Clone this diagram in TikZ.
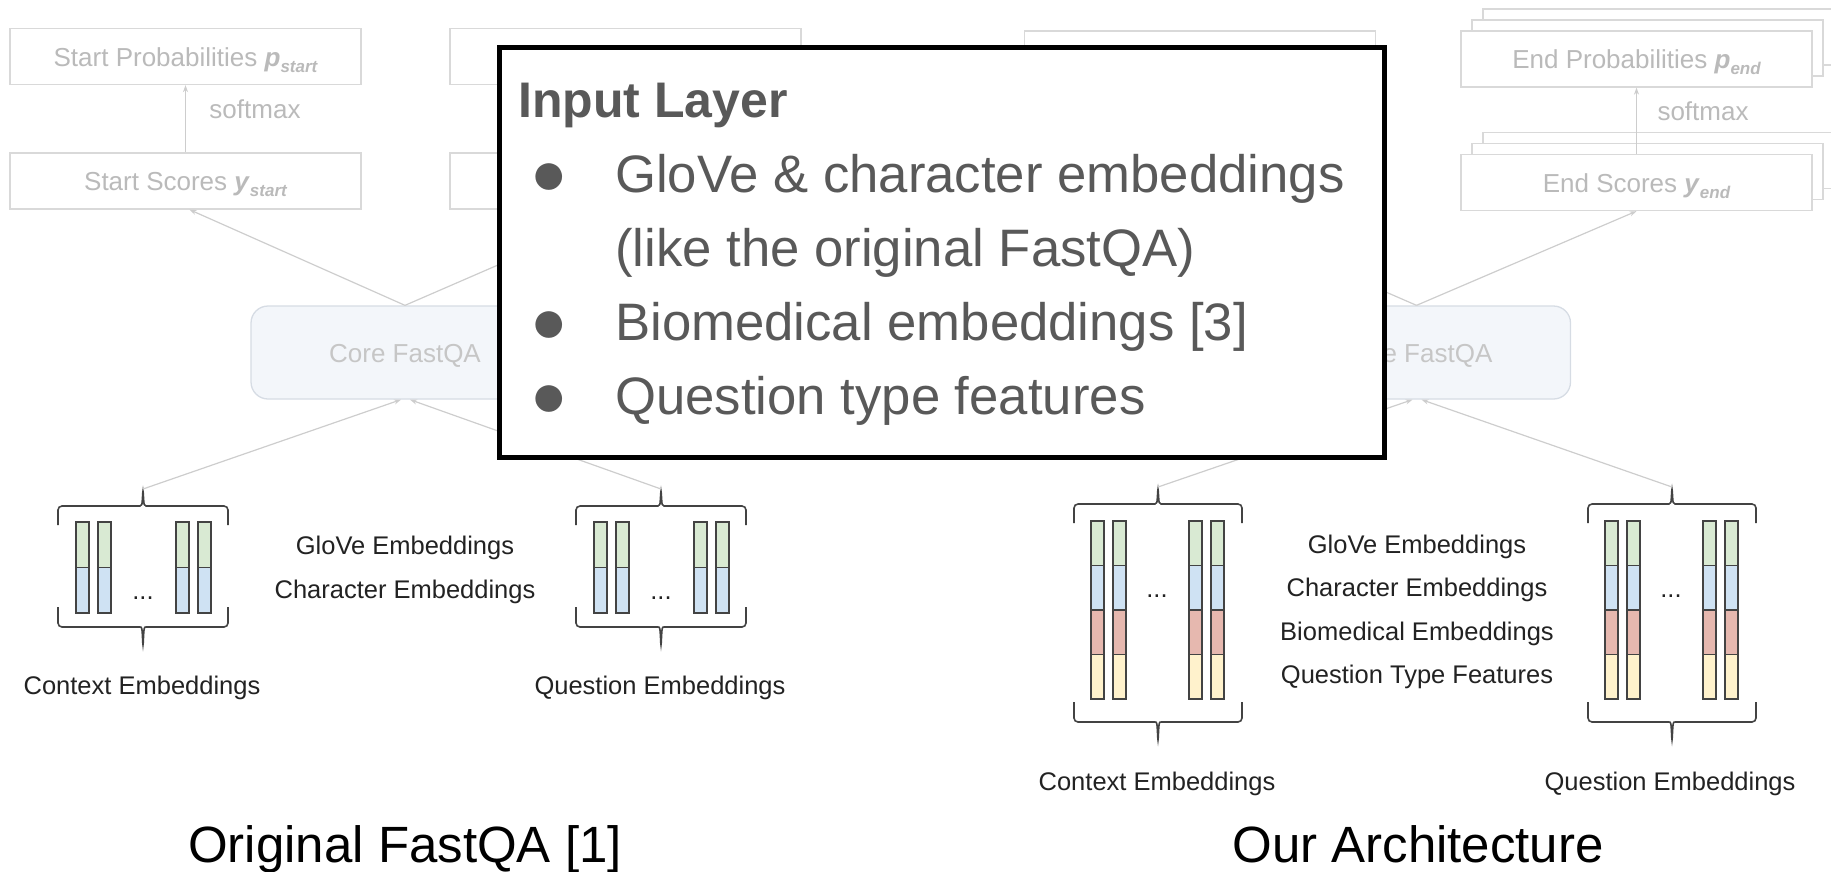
\documentclass[tikz,border=0pt]{standalone}
\usepackage{fontspec}
\setmainfont{Liberation Sans}
\usetikzlibrary{arrows.meta,positioning}

\definecolor{boxline}{RGB}{217,217,217}
\definecolor{boxtext}{RGB}{186,186,186}
\definecolor{linegray}{RGB}{205,205,205}
\definecolor{corefill}{RGB}{243,246,250}
\definecolor{coreline}{RGB}{214,220,228}
\definecolor{coretext}{RGB}{198,198,198}
\definecolor{barline}{RGB}{67,67,67}
\definecolor{labeltext}{RGB}{34,34,34}
\definecolor{poptext}{RGB}{89,89,89}
\definecolor{glove}{RGB}{217,234,211}
\definecolor{charemb}{RGB}{207,226,243}
\definecolor{biomed}{RGB}{230,184,175}
\definecolor{qtype}{RGB}{255,242,204}

\newcommand{\lowidx}[1]{\raisebox{-6pt}{\fontsize{17}{17}\selectfont\bfseries\itshape #1}}
\newcommand{\bracetop}[4]{%
  \draw[braceline] (#1,#3) -- (#1,#3-19) -- ({(#1+#2)/2-7},#3-19)
    .. controls ({(#1+#2)/2-1},#3-19) .. ({(#1+#2)/2},#3-36) coordinate (#4)
    .. controls ({(#1+#2)/2+1},#3-19) .. ({(#1+#2)/2+7},#3-19) -- (#2,#3-19) -- (#2,#3);}
\newcommand{\bracebot}[4]{%
  \draw[braceline] (#1,#3) -- (#1,#3+20) -- ({(#1+#2)/2-7},#3+20)
    .. controls ({(#1+#2)/2-1},#3+20) .. ({(#1+#2)/2},#3+40) coordinate (#4)
    .. controls ({(#1+#2)/2+1},#3+20) .. ({(#1+#2)/2+7},#3+20) -- (#2,#3+20) -- (#2,#3);}

\begin{document}
\begin{tikzpicture}[x=1pt,y=-1pt,
  gbox/.style={draw=boxline,fill=white,line width=1.3pt,minimum width=351pt,minimum height=56pt,
    text height=19pt,text depth=0pt,text=boxtext,font=\fontsize{26}{30}\selectfont},
  core/.style={draw=coreline,fill=corefill,line width=1.3pt,rounded corners=17pt,minimum width=308pt,
    minimum height=93pt,text height=19pt,text depth=0pt,text=coretext,font=\fontsize{26}{30}\selectfont},
  thinarrow/.style={draw=linegray,line width=1.2pt,-{Stealth[length=7pt,width=5pt]}},
  braceline/.style={draw=barline,line width=1.6pt,rounded corners=4pt},
  bar/.style={draw=barline,line width=1.6pt},
  label/.style={text=labeltext,font=\fontsize{25.5}{30}\selectfont,inner sep=0pt,anchor=base},
  gray label/.style={text=boxtext,font=\fontsize{26}{30}\selectfont,inner sep=0pt},
  pop/.style={text=poptext,font=\fontsize{52.7}{60}\selectfont,inner sep=0pt,anchor=base west},
  popdot/.style={text=poptext,font=\fontsize{62}{70}\selectfont,inner sep=0pt,anchor=base},
  title/.style={text=black,font=\fontsize{51}{60}\selectfont,inner sep=0pt,anchor=base}]
\useasboundingbox (0,0) rectangle (1831,871);

% Original FastQA
\path
(185.5,56.5) node [gbox] (probL) {Start Probabilities \textbf{\textit{p}}\lowidx{start}}
(185.5,181) node [gbox] (scoreL) {Start Scores \textbf{\textit{y}}\lowidx{start}}
(625.5,56.5) node [gbox] (probLb) {}
(625.5,181) node [gbox] (scoreLb) {}
(405,352.5) node [core] (coreL) {Core FastQA}
(255,109) node [gray label] (softL) {softmax}
;
\draw[thinarrow] (scoreL.north) -- (probL.south);
\draw[thinarrow] (coreL.north) -- ([xshift=4pt]scoreL.south);
\draw[thinarrow] (coreL.north) -- (scoreLb.south);

\foreach \x in {76,98,176,198,594,616,694,716} {
  \draw[bar,fill=glove] (\x,522) rectangle ++(13,45.5);
  \draw[bar,fill=charemb] (\x,567.5) rectangle ++(13,45.5);
}
\bracetop{58}{228}{525}{ctxTipL}
\bracebot{58}{228}{607}{ctxEndL}
\bracetop{576}{746}{525}{qTipL}
\bracebot{576}{746}{607}{qEndL}
\draw[thinarrow] (ctxTipL) -- ([xshift=-4pt]coreL.south);
\draw[thinarrow] (qTipL) -- ([xshift=5pt]coreL.south);
\path
(143,599) node [label] (dotsLa) {...}
(661,599) node [label] (dotsLb) {...}
(405,554) node [label] (gloveL) {GloVe Embeddings}
(405,598) node [label] (charL) {Character Embeddings}
(142,694) node [label] (ctxL) {Context Embeddings}
(660,694) node [label] (qL) {Question Embeddings}
(405,862) node [title] (titleL) {Original FastQA [1]}
;

% Our Architecture
\path
(1200,59) node [gbox] (probRa) {}
(1200,182.5) node [gbox] (scoreRa) {}
(1658.5,37) node [gbox] (probRc) {}
(1647.5,48) node [gbox] (probRb) {}
(1636.5,59) node [gbox] (probR) {End Probabilities \textbf{\textit{p}}\lowidx{end}}
(1658.5,160.5) node [gbox] (scoreRc) {}
(1647.5,171.5) node [gbox] (scoreRb) {}
(1636.5,182.5) node [gbox] (scoreR) {End Scores \textbf{\textit{y}}\lowidx{end}}
(1416.5,352.5) node [core] (coreR) {Core FastQA}
(1703,111) node [gray label] (softR) {softmax}
;
\draw[thinarrow] (scoreR.north) -- (probR.south);
\draw[thinarrow] (coreR.north) -- (scoreR.south);
\draw[thinarrow] (coreR.north) -- (scoreRa.south);

\foreach \x in {1091,1113,1189,1211,1605,1627,1703,1725} {
  \draw[bar,fill=glove] (\x,521) rectangle ++(13,44.5);
  \draw[bar,fill=charemb] (\x,565.5) rectangle ++(13,44.5);
  \draw[bar,fill=biomed] (\x,610) rectangle ++(13,44.5);
  \draw[bar,fill=qtype] (\x,654.5) rectangle ++(13,44.5);
}
\bracetop{1074}{1242}{523}{ctxTipR}
\bracebot{1074}{1242}{702}{ctxEndR}
\bracetop{1588}{1756}{523}{qTipR}
\bracebot{1588}{1756}{702}{qEndR}
\draw[thinarrow] (ctxTipR) -- ([xshift=-4pt]coreR.south);
\draw[thinarrow] (qTipR) -- ([xshift=5pt]coreR.south);
\path
(1157,597) node [label] (dotsRa) {...}
(1671,597) node [label] (dotsRb) {...}
(1417,553) node [label] (gloveR) {GloVe Embeddings}
(1417,596) node [label] (charR) {Character Embeddings}
(1417,640) node [label] (bioR) {Biomedical Embeddings}
(1417,683) node [label] (typeR) {Question Type Features}
(1157,790) node [label] (ctxR) {Context Embeddings}
(1670,790) node [label] (qR) {Question Embeddings}
(1418,862) node [title] (titleR) {Our Architecture}
;

% callout
\node[draw=black,fill=white,line width=5pt,minimum width=885pt,minimum height=409.5pt] (popup) at (942,252.25) {};
\path
(518,117) node [pop,font=\fontsize{50}{60}\selectfont\bfseries] (popTitle) {Input Layer}
(549,194) node [popdot] (dotA) {●}
(615,192) node [pop] (popA) {GloVe \& character embeddings}
(615,266) node [pop] (popB) {(like the original FastQA)}
(549,342) node [popdot] (dotC) {●}
(615,340) node [pop] (popC) {Biomedical embeddings [3]}
(549,416) node [popdot] (dotD) {●}
(615,414) node [pop] (popD) {Question type features}
;
\end{tikzpicture}
\end{document}
